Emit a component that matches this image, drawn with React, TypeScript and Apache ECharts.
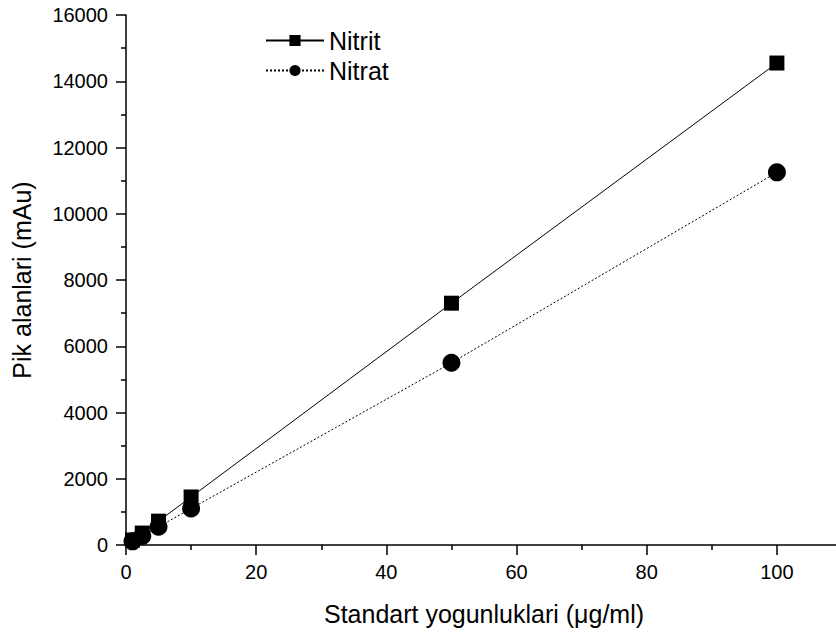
import React, { useEffect, useRef } from "react";
import * as echarts from "echarts";

// Standard concentrations (µg/ml) and measured peak areas (mAu)
const concentrations = [1, 2.5, 5, 10, 50, 100];
const nitritAreas = [150, 360, 720, 1450, 7300, 14550];
const nitratAreas = [110, 270, 550, 1100, 5500, 11250];

const xTitle = "Standart yogunluklari (μg/ml)";
const yTitle = "Pik alanlari (mAu)";
const FONT = "Liberation Sans, Arial, Helvetica, sans-serif";

export default function App() {
  const ref = useRef<HTMLDivElement>(null);

  useEffect(() => {
    if (!ref.current) return;
    const chart = echarts.init(ref.current, undefined, { renderer: "svg" });
    const axisCommon = {
      axisLine: { show: true, onZero: false, lineStyle: { color: "#000", width: 1.5 } },
      axisTick: { show: true, inside: false, length: 10, lineStyle: { color: "#000", width: 1.5 } },
      minorTick: { show: true, splitNumber: 2, length: 5, lineStyle: { color: "#000", width: 1.5 } },
      splitLine: { show: false },
      nameTextStyle: { color: "#000", fontSize: 25, fontFamily: FONT },
      nameLocation: "middle" as const,
    };
    const labelCommon = {
      color: "#000",
      fontSize: 20,
      fontFamily: FONT,
      margin: 17,
      showMaxLabel: false,
      formatter: (v: number) => String(v),
    };
    chart.setOption({
      animation: false,
      backgroundColor: "#fff",
      grid: {
        left: 126,
        width: 716,
        top: 15,
        height: 530,
        containLabel: false,
        outerBoundsMode: "none",
      },
      legend: {
        orient: "vertical",
        left: 265,
        top: 28,
        padding: 0,
        itemWidth: 58,
        itemHeight: 14,
        itemGap: 5,
        textStyle: { color: "#000", fontSize: 25, fontFamily: FONT },
        data: ["Nitrit", "Nitrat"],
      },
      xAxis: {
        ...axisCommon,
        type: "value",
        min: 0,
        max: 110,
        interval: 20,
        name: xTitle,
        nameGap: 56,
        axisLabel: { ...labelCommon },
      },
      yAxis: {
        ...axisCommon,
        type: "value",
        min: 0,
        max: 16000,
        interval: 2000,
        name: yTitle,
        nameGap: 92,
        axisLabel: { ...labelCommon, showMaxLabel: true, margin: 18 },
      },
      series: [
        {
          name: "Nitrit",
          type: "line",
          data: concentrations.map((c, i) => [c, nitritAreas[i]]),
          symbol: "rect",
          symbolSize: 15,
          itemStyle: { color: "#000" },
          lineStyle: { color: "#000", width: 1, type: "solid" },
        },
        {
          name: "Nitrat",
          type: "line",
          data: concentrations.map((c, i) => [c, nitratAreas[i]]),
          symbol: "circle",
          symbolSize: 18,
          itemStyle: { color: "#000" },
          lineStyle: { color: "#000", width: 1, type: [2, 2] },
        },
      ],
    });
    return () => chart.dispose();
  }, []);

  return (
    <div
      ref={ref}
      style={{ position: "absolute", left: 0, top: 0, width: 836, height: 634, overflow: "hidden" }}
    />
  );
}
